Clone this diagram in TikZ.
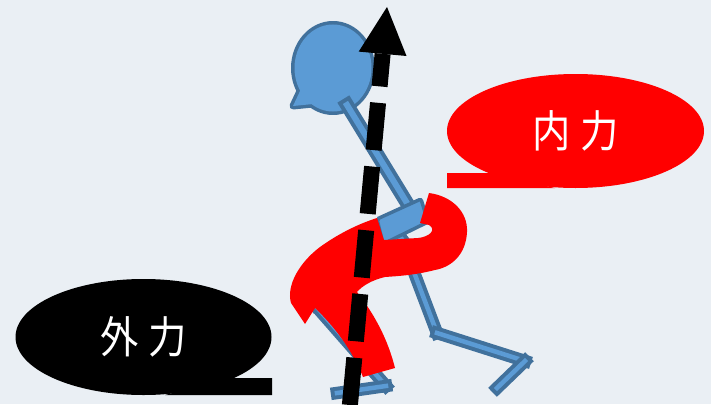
\documentclass[tikz,border=0pt]{standalone}
\usepackage{fontspec}
\newfontfamily\cjkfont{Noto Sans CJK JP}
\usetikzlibrary{shapes.geometric}
\definecolor{bg}{RGB}{234,239,244}
\definecolor{bodyfill}{RGB}{91,155,213}
\definecolor{bodyedge}{RGB}{65,113,156}
\definecolor{forcered}{RGB}{255,0,0}
\begin{document}
\begin{tikzpicture}[x=1pt,y=-1pt,
  bubble/.style={ellipse, inner sep=0pt, text=white,
    font=\cjkfont\fontsize{44}{44}\selectfont},
  limb/.style={line width=4pt, draw=bodyedge, double=bodyfill,
    double distance=4.5pt, line cap=rect, line join=miter},
  spine/.style={limb, double distance=6pt},
  axis/.style={line width=16pt, black, dash pattern=on 47.5pt off 16.5pt}]
\useasboundingbox (0,0) rectangle (711,404);
\fill[bg] (0,0) rectangle (711,404);

% speech bubbles
\fill[forcered] (447,173) -- (490,173) -- (555,188) -- (447,188) -- cycle;
\node[bubble, fill=forcered, minimum width=257pt, minimum height=114pt]
  (inner) at (575.5,131) {\scalebox{0.87}[1]{内\hspace{12pt}力}};
\fill[black] (272,378) -- (232,378) -- (165,395) -- (272,395) -- cycle;
\node[bubble, fill=black, minimum width=256pt, minimum height=116pt]
  (outer) at (143.5,337) {\scalebox{0.87}[1]{外\hspace{12pt}力}};

% figure: joints
\coordinate (neck) at (347,105);
\coordinate (waist) at (410,208);
\coordinate (hip) at (401,238);
\coordinate (bknee) at (437,333);
\coordinate (bankle) at (525,361);
\coordinate (btoe) at (497,388);
\coordinate (fknee) at (315,305);
\coordinate (fankle) at (386,386);
\coordinate (ftoe) at (337,393);

% head with its small tail
\draw[bodyedge, line width=7pt, line join=round]
  (333,68) ellipse [x radius=38.5pt, y radius=43.5pt]
  (301,89) -- (293,106) -- (313,104) -- cycle;
\fill[bodyfill]
  (333,68) ellipse [x radius=38.5pt, y radius=43.5pt]
  (301,89) -- (293,106) -- (313,104) -- cycle;

% spine and legs
\draw[spine] (neck) -- (waist);
\draw[limb] (hip) -- (bknee);
\draw[limb] (bknee) -- (bankle);
\draw[limb] (bankle) -- (btoe);
\draw[limb] (hip) -- (fknee);
\draw[limb] (fknee) -- (fankle);
\draw[limb] (fankle) -- (ftoe);

% pelvis block
\draw[bodyedge, fill=bodyfill, line width=3.5pt, rounded corners=2pt]
  (377,219) -- (421,199) -- (428,222) -- (383,244) -- cycle;

% twisting band
\fill[forcered]
  (429,193) .. controls (452,196) and (468,212) .. (467,232)
  .. controls (466,254) and (452,267) .. (435,270)
  .. controls (415,275) and (400,276) .. (385,277)
  .. controls (372,280) and (362,286) .. (357,292)
  .. controls (375,315) and (388,340) .. (395,368)
  -- (363,377)
  .. controls (352,350) and (335,327) .. (315,308)
  -- (305,324) -- (291,303)
  .. controls (286,285) and (300,262) .. (320,247)
  .. controls (338,234) and (358,224) .. (377,218)
  -- (384,240) -- (418,238)
  .. controls (429,237) and (437,230) .. (429,225)
  -- (420,223) -- cycle;

% dashed axis with its head
\coordinate (axisfoot) at (349.9,405);
\coordinate (headbase) at (382.6,53.8);
\coordinate (axistip) at (387,7);
\draw[axis] (axisfoot) -- (headbase);
\fill[black] (axistip) -- (358.7,51.6) -- (406.5,56.0) -- cycle;
\end{tikzpicture}
\end{document}
